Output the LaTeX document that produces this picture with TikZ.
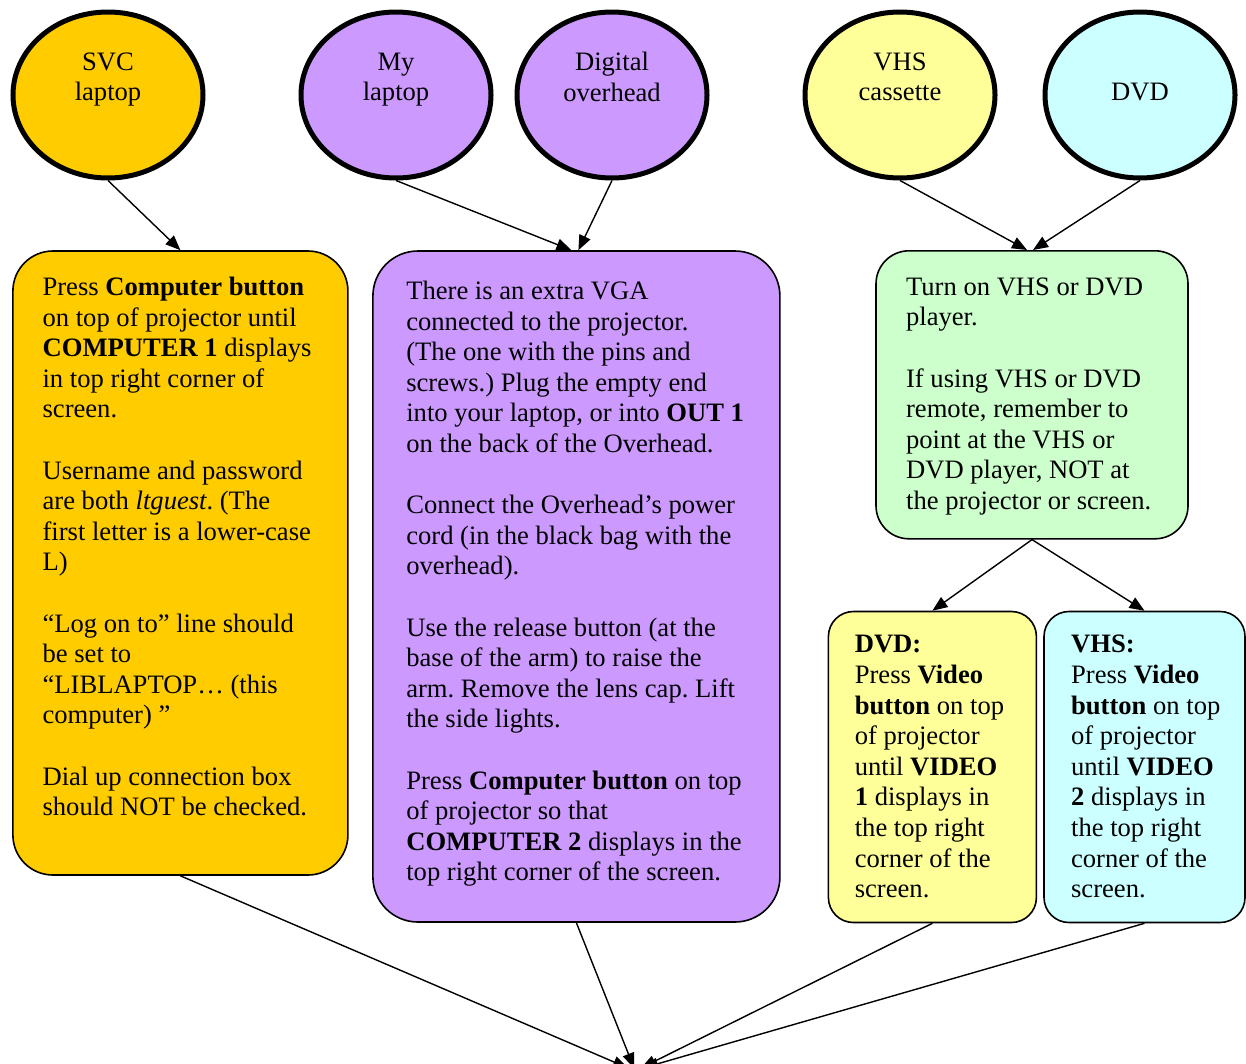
\documentclass[tikz,border=0pt]{standalone}
\usepackage{fontspec}
\setmainfont{Liberation Serif}
\usetikzlibrary{arrows.meta,calc,shapes.geometric,positioning}
\frenchspacing

\definecolor{svcorange}{RGB}{255,204,0}
\definecolor{ohpurple}{RGB}{204,153,255}
\definecolor{vhsyellow}{RGB}{255,255,153}
\definecolor{dvdcyan}{RGB}{204,255,255}
\definecolor{avgreen}{RGB}{204,255,204}

\begin{document}
\begin{tikzpicture}[x=1pt,y=-1pt,
		src/.style={ellipse,draw,line width=5pt,minimum width=190pt,minimum height=166pt,inner sep=0pt,align=center,font=\fontsize{26.6}{30.6}\selectfont},
		panel/.style={draw,line width=1.6pt,rounded corners=#1,inner sep=0pt},
		txt/.style={anchor=north west,inner sep=0pt,align=left,font=\fontsize{26.6}{30.6}\selectfont},
		link/.style={line width=1.4pt,-{Triangle[length=15pt,width=12pt]}}]
		\useasboundingbox (0,0) rectangle (1246,1063);

		% Sources
		\node[src,fill=svcorange] (svc) at (108,95) {SVC\\laptop\\[6pt]\mbox{}};
		\node[src,fill=ohpurple] (mylap) at (396,95) {My\\laptop\\[6pt]\mbox{}};
		\node[src,fill=ohpurple] (digi) at (612,95) {Digital\\overhead\\[6pt]\mbox{}};
		\node[src,fill=vhsyellow] (vhs) at (900,95) {VHS\\cassette\\[6pt]\mbox{}};
		\node[src,fill=dvdcyan] (dvd) at (1140,95) {DVD\\[-24.6pt]\mbox{}};

		% Boxes
		\node[panel=40pt,fill=svcorange,minimum width=335pt,minimum height=624pt] (svcbox) at (180.4,563) {};
		\node[panel=45pt,fill=ohpurple,minimum width=407pt,minimum height=671pt] (ohbox) at (576.4,586.5) {};
		\node[panel=33pt,fill=avgreen,minimum width=312pt,minimum height=288pt] (avbox) at (1032,394.8) {};
		\node[panel=25pt,fill=vhsyellow,minimum width=208pt,minimum height=311pt] (dvdbox) at (932.4,767) {};
		\node[panel=25pt,fill=dvdcyan,minimum width=201pt,minimum height=311pt] (vhsbox) at (1144.5,767) {};

		% Texts
		\node[txt] (svctxt) at ([shift={(30.3,23.6)}]svcbox.north west) {\strut Press \textbf{Computer button}\\
			on top of projector until\\
			\textbf{COMPUTER 1} displays\\
			in top right corner of\\
			screen.\\[30.6pt]
			Username and password\\
			are both \textit{ltguest}. (The\\
			first letter is a lower-case\\
			L)\\[30.6pt]
			“Log on to” line should\\
			be set to\\
			“LIBLAPTOP… (this\\
			computer) ”\\[30.6pt]
			Dial up connection box\\
			should NOT be checked.};
		\node[txt] (ohtxt) at ([shift={(34,27.6)}]ohbox.north west) {\strut There is an extra VGA\\
			connected to the projector.\\
			(The one with the pins and\\
			screws.) Plug the empty end\\
			into your laptop, or into \textbf{OUT 1}\\
			on the back of the Overhead.\\[30.6pt]
			Connect the Overhead’s power\\
			cord (in the black bag with the\\
			overhead).\\[30.6pt]
			Use the release button (at the\\
			base of the arm) to raise the\\
			arm. Remove the lens cap. Lift\\
			the side lights.\\[30.6pt]
			Press \textbf{Computer button} on top\\
			of projector so that\\
			\textbf{COMPUTER 2} displays in the\\
			top right corner of the screen.};
		\node[txt] (avtxt) at ([shift={(30.7,23.6)}]avbox.north west) {\strut Turn on VHS or DVD\\
			player.\\[30.6pt]
			If using VHS or DVD\\
			remote, remember to\\
			point at the VHS or\\
			DVD player, NOT at\\
			the projector or screen.};
		\node[txt] (dvdtxt) at ([shift={(27,20.6)}]dvdbox.north west) {\strut\textbf{DVD:}\\
			Press \textbf{Video}\\
			\textbf{button} on top\\
			of projector\\
			until \textbf{VIDEO}\\
			\textbf{1} displays in\\
			the top right\\
			corner of the\\
			screen.};
		\node[txt] (vhstxt) at ([shift={(27.7,20.6)}]vhsbox.north west) {\strut\textbf{VHS:}\\
			Press \textbf{Video}\\
			\textbf{button} on top\\
			of projector\\
			until \textbf{VIDEO}\\
			\textbf{2} displays in\\
			the top right\\
			corner of the\\
			screen.};

		% Arrows
		\coordinate (screen) at (636,1068);
		\draw[link] (svc.south) -- (svcbox.north);
		\draw[link] (mylap.south) -- ($(ohbox.north)+(-5,0)$);
		\draw[link] (digi.south) -- ($(ohbox.north)+(2,0)$);
		\draw[link] (vhs.south) -- ($(avbox.north)+(-5,0)$);
		\draw[link] (dvd.south) -- ($(avbox.north)+(1,0)$);
		\draw[link] (avbox.south) -- (dvdbox.north);
		\draw[link] (avbox.south) -- (vhsbox.north);
		\draw[link] (svcbox.south) -- ($(screen)+(-8,0)$);
		\draw[link] (ohbox.south) -- ($(screen)+(-2,0)$);
		\draw[link] (dvdbox.south) -- ($(screen)+(5,0)$);
		\draw[link] (vhsbox.south) -- ($(screen)+(7,0)$);
	\end{tikzpicture}
\end{document}
